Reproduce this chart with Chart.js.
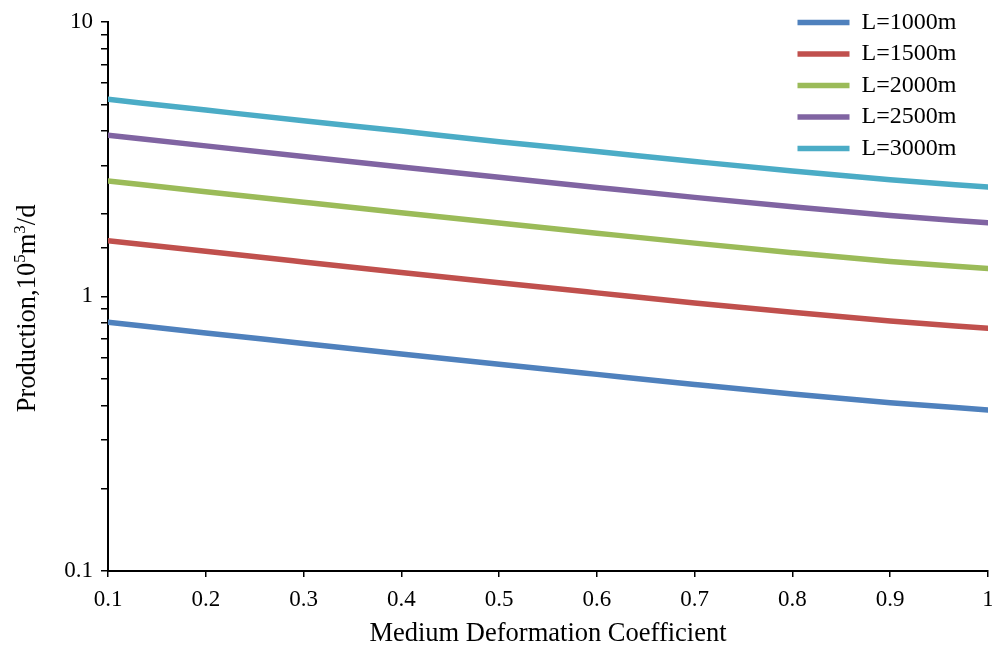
<!DOCTYPE html>
<html>
<head>
<meta charset="utf-8">
<script src="https://cdn.jsdelivr.net/npm/chart.js@4"></script>
<style>
  html, body { margin: 0; padding: 0; background: #fff; }
  #wrap { width: 992px; height: 653px; position: relative; }
</style>
</head>
<body>
<div id="wrap"><canvas id="chart"></canvas></div>
<script>
// ── Data ────────────────────────────────────────────────────
const coefficients = [0.1, 0.2, 0.3, 0.4, 0.5, 0.6, 0.7, 0.8, 0.9, 1.0];
const seriesNames  = ['L=1000m', 'L=1500m', 'L=2000m', 'L=2500m', 'L=3000m'];
const l1000 = [0.805, 0.736, 0.674, 0.617, 0.566, 0.520, 0.478, 0.441, 0.410, 0.386];
const l1500 = [1.596, 1.459, 1.335, 1.222, 1.121, 1.030, 0.947, 0.875, 0.813, 0.766];
const l2000 = [2.633, 2.407, 2.202, 2.016, 1.849, 1.699, 1.563, 1.443, 1.341, 1.263];
const l2500 = [3.864, 3.533, 3.232, 2.959, 2.715, 2.494, 2.294, 2.119, 1.969, 1.855];
const l3000 = [5.22, 4.77, 4.36, 4.00, 3.66, 3.37, 3.10, 2.86, 2.66, 2.50];
const seriesColors = ['#4F81BD', '#C0504D', '#9BBB59', '#8064A2', '#4BACC6'];
// y title pieces: [text, superscript?]
const yTitleParts = [['Production,10', false], ['5', true], ['m', false], ['3', true], ['/d', false]];

const FONT = "'Liberation Serif', 'Times New Roman', serif";

const datasets = [l1000, l1500, l2000, l2500, l3000].map((vals, i) => ({
  label: seriesNames[i],
  data: coefficients.map((x, j) => ({ x, y: vals[j] })),
  borderColor: seriesColors[i],
  backgroundColor: seriesColors[i],
  borderWidth: 5.5,
  borderCapStyle: 'round',
  pointRadius: 0,
  cubicInterpolationMode: 'monotone',
  fill: false,
}));

// put the legend in the top-right corner, over the plot
const legendSpot = {
  id: 'legendSpot',
  afterLayout(chart) {
    if (!chart.legend) return;
    chart.legend.left = 790;
    chart.legend.top = 3;
  },
};

// vertical y title with real superscripts
const yTitle = {
  id: 'yTitle',
  afterDraw(chart) {
    const { ctx } = chart;
    const big = 26.5, small = 17;
    ctx.save();
    let total = 0;
    for (const [t, sup] of yTitleParts) {
      ctx.font = `${sup ? small : big}px ${FONT}`;
      total += ctx.measureText(t).width;
    }
    ctx.translate(27, (chart.scales.y.top + chart.scales.y.bottom) / 2 + 12);
    ctx.rotate(-Math.PI / 2);
    ctx.fillStyle = '#000';
    ctx.textBaseline = 'alphabetic';
    let x = -total / 2;
    for (const [t, sup] of yTitleParts) {
      ctx.font = `${sup ? small : big}px ${FONT}`;
      ctx.fillText(t, x, sup ? -2 : 8);
      x += ctx.measureText(t).width;
    }
    ctx.restore();
  },
};

new Chart(document.getElementById('chart'), {
  type: 'line',
  data: { datasets },
  plugins: [legendSpot, yTitle],
  options: {
    responsive: true,
    maintainAspectRatio: false,
    animation: false,
    layout: { padding: { top: 19, right: 4, left: 0, bottom: 0 } },
    plugins: {
      tooltip: { enabled: false },
      legend: {
        position: 'chartArea',
        align: 'start',
        labels: {
          usePointStyle: true,
          pointStyle: 'line',
          pointStyleWidth: 52,
          padding: 7.5,
          color: '#000',
          font: { family: FONT, size: 24 },
        },
      },
    },
    scales: {
      x: {
        type: 'linear',
        min: 0.1,
        max: 1,
        afterFit: s => { s.height = 82; s.paddingRight = 0; s.paddingLeft = 0; },
        border: { color: '#000', width: 2 },
        grid: { drawOnChartArea: false, drawTicks: true, tickLength: 6, color: '#000', lineWidth: 1.5 },
        ticks: {
          stepSize: 0.1,
          autoSkip: false,
          maxRotation: 0,
          padding: 9,
          color: '#000',
          font: { family: FONT, size: 23 },
          callback: v => String(Number(v.toFixed(1))),
        },
        title: {
          display: true,
          text: 'Medium Deformation Coefficient',
          color: '#000',
          font: { family: FONT, size: 26.5 },
          padding: { top: 0, bottom: 3 },
        },
      },
      y: {
        type: 'logarithmic',
        min: 0.1,
        max: 10,
        afterFit: s => { s.width = 108; },
        border: { color: '#000', width: 2 },
        grid: { drawOnChartArea: false, drawTicks: true, tickLength: 7, color: '#000', lineWidth: 1.5 },
        ticks: {
          autoSkip: false,
          padding: 8,
          color: '#000',
          font: { family: FONT, size: 23 },
          callback: v => {
            const l = Math.log10(v);
            return Math.abs(l - Math.round(l)) < 1e-6 ? String(Number(v.toFixed(1))) : '';
          },
        },
        title: { display: false },
      },
    },
  },
});
</script>
</body>
</html>
